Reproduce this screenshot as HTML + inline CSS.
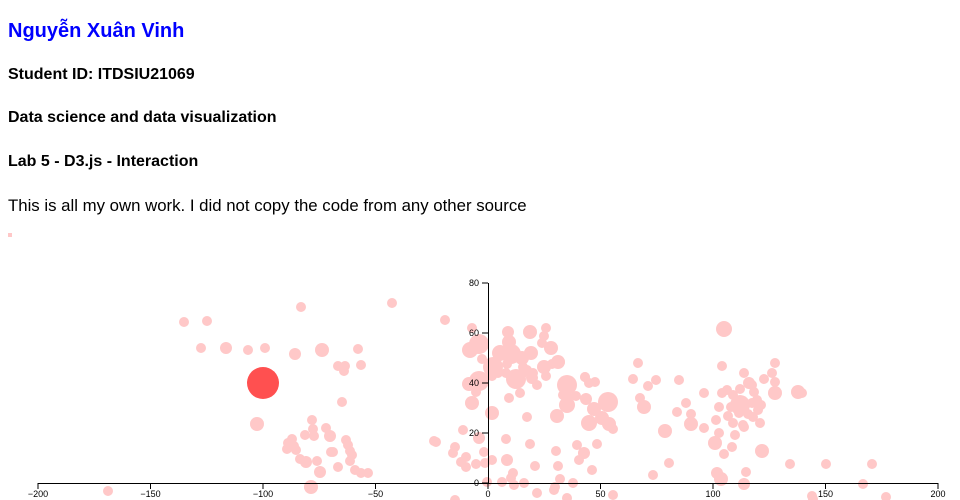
<!DOCTYPE html>
<html><head><meta charset="utf-8"><style>
body{margin:0;width:960px;height:500px;overflow:hidden;background:#fff;font-family:"Liberation Sans",sans-serif;}
.t{position:absolute;left:8px;margin:0;white-space:nowrap;color:#000}
svg{position:absolute;left:0;top:0}
svg text{font-family:"Liberation Sans",sans-serif;font-size:9px;fill:#000}
</style></head><body>
<div class="t" style="top:20px;font-size:20px;font-weight:bold;color:#0000ff">Nguyễn Xuân Vinh</div>
<div class="t" style="top:66px;font-size:16px;font-weight:bold">Student ID: ITDSIU21069</div>
<div class="t" style="top:109px;font-size:16px;font-weight:bold">Data science and data visualization</div>
<div class="t" style="top:153px;font-size:16px;font-weight:bold">Lab 5 - D3.js - Interaction</div>
<div class="t" style="top:196px;font-size:16.8px">This is all my own work. I did not copy the code from any other source</div>
<svg id="s" width="960" height="500" viewBox="0 0 960 500">
<rect x="8" y="233" width="4" height="4" fill="#ffc8c8"/>
<g id="c" fill="#ffc8c8"></g>
<circle cx="263" cy="383" r="16" fill="#ff5050"/>
<g stroke="#000" fill="none">
<line x1="38" y1="483.5" x2="938" y2="483.5"/>
<line x1="488.5" y1="283" x2="488.5" y2="483"/>
</g>
<g id="ax"></g>
</svg>
<script>
var pts=[[184,322],[207,321],[201,348],[226,348,6],[248,350],[265,348],[295,354,6],[322,350,7],[301,307],[358,349],[338,366],[345,366],[344,371],[361,365],[257,424,7],[342,402],[312,420],[313,429],[326,428],[330,436,6],[314,436],[305,435],[288,443],[292,439],[294,446],[287,449],[296,450],[300,459],[306,462,6],[317,461],[331,452],[333,452],[338,467],[346,440],[348,445],[350,451],[352,455],[350,461],[355,470],[361,473],[368,473],[320,472,6],[311,487,7],[108,491],[434,441],[445,320],[392,303],
[479,344,10],[470,350,8],[482,359],[493,367,10],[500,353,8],[511,354,10],[508,332,6],[509,342,7],[530,332,7],[531,353,7],[546,328],[544,336],[542,343],[551,348,7],[558,362,7],[552,364],[544,367,7],[546,376],[537,385],[532,378,6],[533,373],[522,358,7],[523,367],[507,364],[506,373],[516,379,10],[523,373],[527,370],[498,373],[492,376],[479,381,10],[469,384,7],[476,392],[472,403,7],[509,398],[520,393],[492,413,7],[527,417],[567,385,10],[563,395],[568,397],[576,396],[567,405,8],[586,399,6],[585,377],[589,383],[595,382],[608,402,10],[594,409,7],[557,416,7],[589,423,8],[602,418,7],[609,424,7],[613,429],[463,430],[479,438,6],[506,439],[530,444],[436,442],[455,447],[453,453],[466,457],[484,452],[461,462],[466,467],[476,464],[485,463],[492,460],[507,460,6],[556,451],[577,445],[583,453],[579,460],[558,466],[535,466],[592,470],[597,444],[513,473],[560,479],[573,483],[524,483],[511,478],[514,485],[502,482],[487,482],[555,487],[554,490],[537,493],[567,498],[613,495],[455,500],[472,328],[560,362],[585,377],[603,419],[584,453,6],
[724,329,8],[722,366],[744,373],[775,363],[772,373],[775,382],[775,393,7],[798,392,7],[802,393],[764,379],[749,383,6],[752,385],[740,389],[754,392],[727,390],[722,393],[733,395],[757,400],[752,403],[761,405],[740,405,10],[731,407],[719,407],[758,410],[753,417],[748,414],[739,413],[728,416],[716,420],[733,423],[743,425],[744,427],[760,423],[719,433],[735,435],[715,443,7],[732,447],[724,454],[762,451,7],[790,464],[717,473,6],[721,479,7],[746,472],[744,484,6],[813,499],
[638,363],[633,379],[648,386],[656,380],[679,380],[686,403],[704,393],[677,412],[691,414],[691,424,7],[704,428],[640,398],[644,407,7],[665,431,7],[669,463],[653,475],[826,464],[872,464],[863,484],[886,497],[812,496]];
var g=document.getElementById('c'),h='';
pts.forEach(function(p){h+='<circle cx="'+p[0]+'" cy="'+p[1]+'" r="'+(p[2]||5)+'"/>';});
g.innerHTML=h;
var a='';
[-200,-150,-100,-50,0,50,100,150,200].forEach(function(v){var x=488+v*2.25;a+='<line x1="'+x+'" y1="483" x2="'+x+'" y2="489" stroke="#000"/><text x="'+x+'" y="497" text-anchor="middle">'+(v<0?'\u2212'+(-v):v)+'</text>';});
[0,20,40,60,80].forEach(function(v){var y=483-v*2.5;a+='<line x1="482" y1="'+y+'" x2="488" y2="'+y+'" stroke="#000"/><text x="479" y="'+(y+3)+'" text-anchor="end">'+v+'</text>';});
document.getElementById('ax').innerHTML=a;
</script>
</body></html>
